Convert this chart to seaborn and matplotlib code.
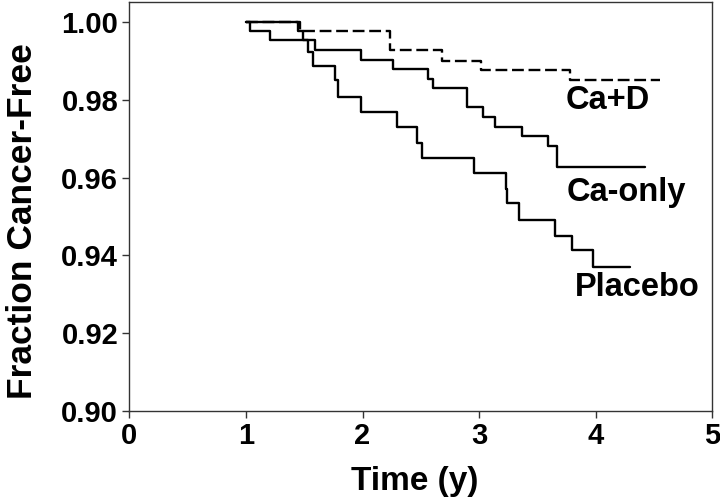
import matplotlib
matplotlib.use("Agg")
import matplotlib.pyplot as plt
import seaborn as sns
import pandas as pd

# ---- data ----
placebo_t = [1.0, 1.035, 1.21, 1.535, 1.578, 1.764, 1.793, 1.985, 2.293, 2.465,
             2.508, 2.96, 3.231, 3.243, 3.345, 3.651, 3.794, 3.98, 4.294]
placebo_s = [1.0, 0.9976, 0.9953, 0.9924, 0.9886, 0.9852, 0.9807, 0.9768, 0.9731, 0.9690,
             0.9650, 0.9611, 0.9570, 0.9534, 0.9491, 0.9450, 0.9414, 0.9369, 0.9369]

caonly_t = [1.0, 1.45, 1.49, 1.592, 1.99, 2.265, 2.565, 2.607, 2.894, 3.036,
            3.136, 3.365, 3.594, 3.666, 4.42]
caonly_s = [1.0, 0.9976, 0.9953, 0.9929, 0.9903, 0.9879, 0.9854, 0.9830, 0.9781, 0.9756,
            0.9730, 0.9706, 0.9680, 0.9628, 0.9628]

cad_t = [1.0, 1.46, 2.24, 2.68, 3.02, 3.78, 4.55]
cad_s = [1.0, 0.9976, 0.9927, 0.9901, 0.9877, 0.9852, 0.9852]

series_names = ["Ca+D", "Ca-only", "Placebo"]
label_pos = {"Ca+D": (3.74, 0.9797), "Ca-only": (3.75, 0.9561), "Placebo": (3.82, 0.9317)}

x_ticks = [0, 1, 2, 3, 4, 5]
y_ticks = [0.90, 0.92, 0.94, 0.96, 0.98, 1.00]

# ---- plot ----
sns.set_style("white")
plt.rcParams["font.family"] = ["Liberation Sans", "DejaVu Sans"]
plt.rcParams["font.weight"] = "bold"

fig, ax = plt.subplots(figsize=(7.2, 4.98), dpi=100)
fig.subplots_adjust(left=0.1796, right=0.9893, top=0.9954, bottom=0.1753)

frames = {
    "Placebo": pd.DataFrame({"t": placebo_t, "s": placebo_s}),
    "Ca-only": pd.DataFrame({"t": caonly_t, "s": caonly_s}),
    "Ca+D": pd.DataFrame({"t": cad_t, "s": cad_s}),
}
styles = {"Placebo": "-", "Ca-only": "-", "Ca+D": (0, (5, 2))}
for name in ["Ca+D", "Placebo", "Ca-only"]:
    df = frames[name]
    sns.lineplot(data=df, x="t", y="s", ax=ax, color="black", lw=1.7,
                 drawstyle="steps-post", estimator=None, sort=False,
                 linestyle=styles[name])

for name in series_names:
    x, y = label_pos[name]
    ax.text(x, y, name, fontsize=23.5, fontweight="bold", ha="left", va="center",
            color="black")

ax.set_xlim(0, 5)
ax.set_ylim(0.90, 1.0051)
ax.set_xticks(x_ticks)
ax.set_xticklabels([str(v) for v in x_ticks])
ax.set_yticks(y_ticks)
ax.set_yticklabels([f"{v:.2f}" for v in y_ticks])
ax.tick_params(axis="both", labelsize=21, length=5, width=1, color="#333333",
               labelcolor="black", direction="out", bottom=True, left=True, pad=3)
for lab in ax.get_xticklabels() + ax.get_yticklabels():
    lab.set_fontweight("bold")

ax.set_xlabel("Time (y)", fontsize=24, fontweight="bold", color="black")
ax.xaxis.set_label_coords(0.49, -0.135)
ax.set_ylabel("Fraction Cancer-Free", fontsize=25.5, fontweight="bold", color="black")
ax.yaxis.set_label_coords(-0.155, 0.465)

for sp in ax.spines.values():
    sp.set_visible(True)
    sp.set_color("#333333")
    sp.set_linewidth(1.0)

fig.savefig("out.png", dpi=100)
